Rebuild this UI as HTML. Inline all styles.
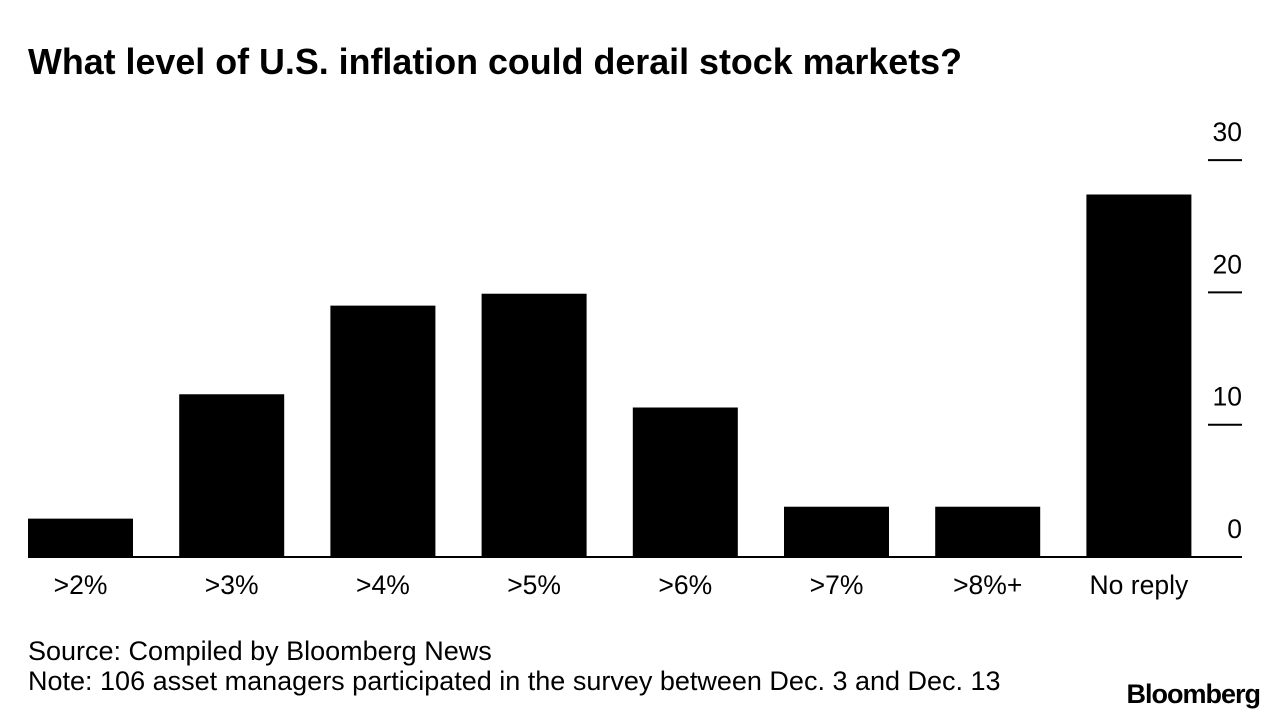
<!DOCTYPE html>
<html><head><meta charset="utf-8">
<style>
html,body{margin:0;padding:0;background:#fff;}
body{width:1288px;height:720px;overflow:hidden;font-family:"Liberation Sans",sans-serif;}
svg text{font-family:"Liberation Sans",sans-serif;}
</style></head>
<body>
<svg width="1288" height="720">
<text x="28" y="74" font-size="36" font-weight="bold" fill="#000" textLength="934" lengthAdjust="spacingAndGlyphs">What level of U.S. inflation could derail stock markets?</text>
<g id="bars"></g>
<g id="yaxis"></g>
<g id="xaxis"></g>
<text x="28" y="660" font-size="27" fill="#000">Source: Compiled by Bloomberg News</text>
<text x="28" y="690" font-size="27" fill="#000">Note: 106 asset managers participated in the survey between Dec. 3 and Dec. 13</text>
<text x="1260" y="703" font-size="27" font-weight="bold" text-anchor="end" fill="#000" letter-spacing="-1">Bloomberg</text>
</svg>
<script>
const categories=[">2%",">3%",">4%",">5%",">6%",">7%",">8%+","No reply"];
const values=[2.9,12.3,19,19.9,11.3,3.8,3.8,27.4];
const yTicks=[0,10,20,30];
const NS="http://www.w3.org/2000/svg";
const y0=557,pxPer=13.23;
function yScale(v){return y0-v*pxPer;}
function xScale(i){return 28+i*151.2;}
const bw=105;
function mk(t,a,p){const e=document.createElementNS(NS,t);for(const k in a)e.setAttribute(k,a[k]);p.appendChild(e);return e;}
const bars=document.getElementById('bars'),ya=document.getElementById('yaxis'),xa=document.getElementById('xaxis');
values.forEach((v,i)=>{
 const r=mk('rect',{x:xScale(i),y:yScale(v),width:bw,height:y0-yScale(v),fill:'#000'},bars);
 
 
 const t=mk('text',{x:xScale(i)+bw/2,y:594,'font-size':26.5,'text-anchor':'middle',fill:'#000'},xa);
 t.textContent=categories[i];
 
 
});
const base=mk('line',{x1:28,x2:1242,y1:y0,y2:y0,stroke:'#000','stroke-width':2},xa);


yTicks.forEach(v=>{
 const y=yScale(v);
 if(v>0){
  const l=mk('line',{x1:1208,x2:1242,y1:y,y2:y,stroke:'#000','stroke-width':2},ya);
  
  
 }
 const t=mk('text',{x:1242,y:y-19,'font-size':26.5,'text-anchor':'end',fill:'#000'},ya);
 t.textContent=v;
 
 
});
</script>
</body></html>
